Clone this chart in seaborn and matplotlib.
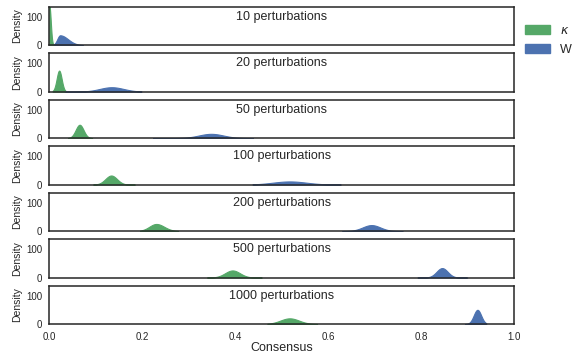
import numpy as np
import matplotlib
matplotlib.use("Agg")
import matplotlib.pyplot as plt
from matplotlib.patches import Patch
import seaborn as sns

# Number of perturbations per panel
perturbations = [10, 20, 50, 100, 200, 500, 1000]

# Consensus distributions, summarised per panel: peak location, left/right spread, support
kappa_center = [0.000, 0.021, 0.065, 0.133, 0.230, 0.394, 0.517]
kappa_sd_left = [0.0028, 0.0054, 0.0085, 0.0125, 0.0150, 0.0160, 0.0200]
kappa_sd_right = [0.0030, 0.0054, 0.0085, 0.0125, 0.0170, 0.0160, 0.0200]
kappa_lo = [0.000, 0.007, 0.040, 0.094, 0.195, 0.339, 0.469]
kappa_hi = [0.012, 0.036, 0.092, 0.184, 0.277, 0.457, 0.576]

w_center = [0.023, 0.134, 0.348, 0.517, 0.693, 0.845, 0.921]
w_sd_left = [0.0060, 0.0257, 0.0266, 0.0360, 0.0190, 0.0120, 0.0080]
w_sd_right = [0.0170, 0.0257, 0.0266, 0.0360, 0.0190, 0.0120, 0.0080]
w_lo = [0.010, 0.034, 0.223, 0.437, 0.630, 0.792, 0.894]
w_hi = [0.072, 0.198, 0.438, 0.627, 0.760, 0.899, 0.940]

series_labels = [r"$\kappa$", "W"]

sns.set_style("white")
plt.rcParams["font.family"] = ["Liberation Sans", "DejaVu Sans"]
plt.rcParams["axes.edgecolor"] = ".15"
plt.rcParams["axes.linewidth"] = 1.1

blue, green = sns.color_palette("deep6")[:2]
colors = [green, blue]


def density(center, sdl, sdr, lo, hi, n=300):
    """Split-normal density evaluated over the support [lo, hi]."""
    x = np.linspace(lo, hi, n)
    sd = np.where(x < center, sdl, sdr)
    y = 2.0 / (np.sqrt(2 * np.pi) * (sdl + sdr)) * np.exp(-0.5 * ((x - center) / sd) ** 2)
    return x, y


fig, axes = plt.subplots(len(perturbations), 1, figsize=(5.79, 3.55), dpi=100, sharex=True)
fig.subplots_adjust(left=0.0853, right=0.888, top=0.981, bottom=0.0873, hspace=0.21)

for i, ax in enumerate(axes):
    params = [
        (kappa_center[i], kappa_sd_left[i], kappa_sd_right[i], kappa_lo[i], kappa_hi[i]),
        (w_center[i], w_sd_left[i], w_sd_right[i], w_lo[i], w_hi[i]),
    ]
    for (c, sl, sr, lo, hi), col in zip(params, colors):
        x, y = density(c, sl, sr, lo, hi)
        ax.fill_between(x, 0, y, color=col, alpha=1.0, linewidth=0.8, edgecolor=col)
    ax.set_xlim(0, 1)
    ax.set_ylim(0, 135)
    ax.set_yticks([0, 100])
    ax.tick_params(axis="y", labelsize=7, pad=5, length=0, labelcolor=".15")
    ax.tick_params(axis="x", labelsize=7, pad=5.5, length=0, labelcolor=".15")
    ax.set_ylabel("Density", fontsize=7.5, labelpad=3, color=".15")
    ax.text(0.5, 0.74, f"{perturbations[i]} perturbations", transform=ax.transAxes,
            ha="center", va="center", fontsize=9, color=".15")
    for s in ax.spines.values():
        s.set_visible(True)

axes[-1].set_xticks([0.0, 0.2, 0.4, 0.6, 0.8, 1.0])
axes[-1].set_xlabel("Consensus", fontsize=9, labelpad=0.5, color=".15")

handles = [Patch(facecolor=c, edgecolor=c) for c in colors]
fig.legend(handles, series_labels, loc="upper left", bbox_to_anchor=(0.888, 0.962),
           frameon=False, fontsize=9, handlelength=2.0, handleheight=0.75,
           handletextpad=0.75, labelspacing=0.55)

fig.savefig("out.png", dpi=100)
